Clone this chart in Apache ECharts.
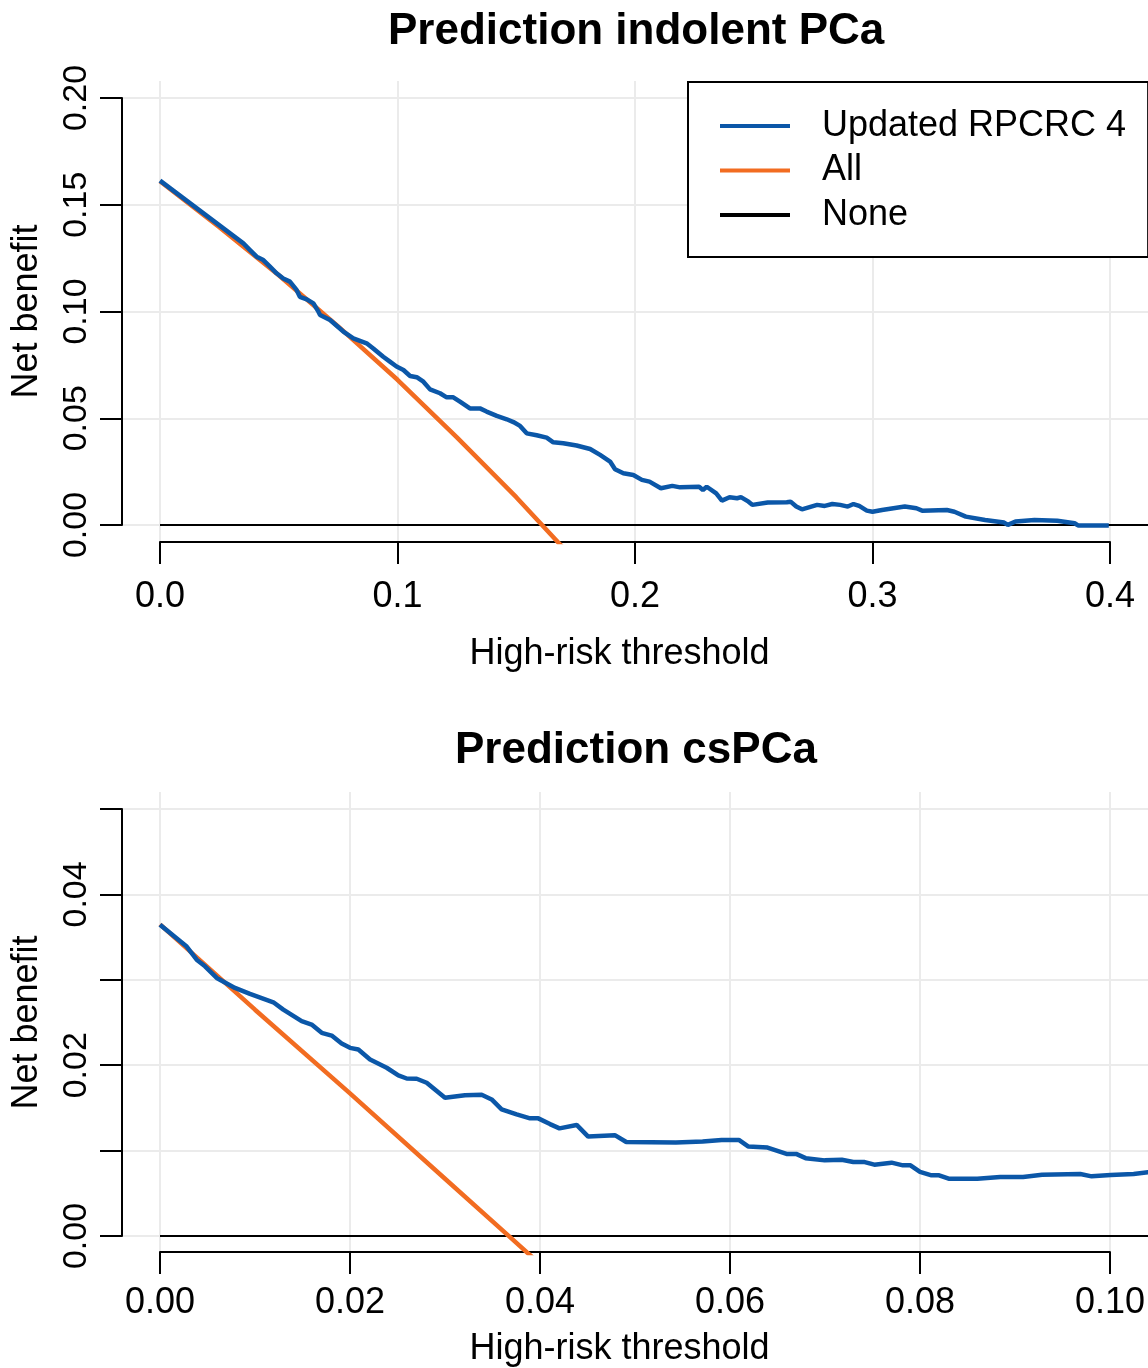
<!DOCTYPE html>
<html>
<head>
<meta charset="utf-8">
<script src="https://cdn.jsdelivr.net/npm/echarts@6/dist/echarts.min.js"></script>
<style>
html, body { margin: 0; padding: 0; background: #fff; }
#chart { width: 1148px; height: 1368px; }
</style>
</head>
<body>
<div id="chart"></div>
<script>
// ---- data ----
// top panel: prediction of indolent PCa
var indolentModelT = [0, 0.0351, 0.0379, 0.0407, 0.0435, 0.0463, 0.0491, 0.0519, 0.0547, 0.0575, 0.0589,
    0.0618, 0.0646, 0.0667, 0.0674, 0.0716, 0.0772, 0.0814, 0.0870, 0.0898, 0.0940, 0.0968, 0.0996, 0.1025,
    0.1053, 0.1081, 0.1109, 0.1137, 0.1179, 0.1207, 0.1235, 0.1263, 0.1305, 0.1347, 0.1375, 0.1418, 0.1460,
    0.1488, 0.1516, 0.1544, 0.1586, 0.1628, 0.1656, 0.1698, 0.1754, 0.1811, 0.1853, 0.1895, 0.1916, 0.1951,
    0.1993, 0.2029, 0.2061, 0.2109, 0.2157, 0.2190, 0.2270, 0.2286, 0.2302, 0.2342, 0.2366, 0.2398, 0.2430,
    0.2446, 0.2478, 0.2494, 0.2559, 0.2639, 0.2655, 0.2679, 0.2703, 0.2767, 0.2799, 0.2831, 0.2864, 0.2896,
    0.2920, 0.2944, 0.2976, 0.3000, 0.3040, 0.3136, 0.3185, 0.3209, 0.3313, 0.3345, 0.3393, 0.3474, 0.3554,
    0.3570, 0.3602, 0.3682, 0.3778, 0.3851, 0.3867, 0.3995];
var indolentModelNB = [0.1613, 0.1319, 0.1288, 0.1257, 0.1241, 0.1210, 0.1179, 0.1155, 0.1140, 0.1101, 0.1069,
    0.1057, 0.1038, 0.0999, 0.0984, 0.0960, 0.0906, 0.0874, 0.0851, 0.0827, 0.0788, 0.0765, 0.0742, 0.0726,
    0.0698, 0.0692, 0.0671, 0.0635, 0.0617, 0.0598, 0.0598, 0.0578, 0.0546, 0.0546, 0.0531, 0.0511, 0.0495,
    0.0482, 0.0464, 0.0429, 0.0420, 0.0409, 0.0387, 0.0383, 0.0372, 0.0356, 0.0328, 0.0297, 0.0261, 0.0242,
    0.0234, 0.0211, 0.0203, 0.0172, 0.0183, 0.0176, 0.0179, 0.0164, 0.0179, 0.0148, 0.0114, 0.0130, 0.0125,
    0.0130, 0.0109, 0.0094, 0.0105, 0.0106, 0.0109, 0.0086, 0.0073, 0.0094, 0.0089, 0.0098, 0.0094, 0.0086,
    0.0098, 0.0089, 0.0067, 0.0062, 0.0070, 0.0086, 0.0078, 0.0067, 0.0070, 0.0062, 0.0039, 0.0023, 0.0011,
    0.0000, 0.0016, 0.0023, 0.0020, 0.0008, -0.0003, -0.0003];
var indolentAllT = [0, 0.025, 0.05, 0.075, 0.1, 0.125, 0.15, 0.17];
var indolentAllNB = [0.161, 0.1395, 0.117, 0.093, 0.068, 0.041, 0.013, -0.011];
var indolentNoneT = [0, 0.45];
var indolentNoneNB = [0, 0];
var indolentXLabels = ['0.0', '0.1', '0.2', '0.3', '0.4'];
var indolentYLabels = ['0.00', '0.05', '0.10', '0.15', '0.20'];

// bottom panel: prediction of csPCa
var csModelT = [0, 0.00281, 0.00386, 0.00474, 0.00597, 0.00789, 0.00947, 0.01193, 0.01298, 0.01491, 0.01596,
    0.01702, 0.01807, 0.01912, 0.02000, 0.02088, 0.02211, 0.02386, 0.02509, 0.02597, 0.02702, 0.02807, 0.03000,
    0.03210, 0.03386, 0.03491, 0.03596, 0.03754, 0.03895, 0.03982, 0.04105, 0.04205, 0.04386, 0.04507, 0.04788,
    0.04908, 0.05430, 0.05712, 0.05912, 0.06093, 0.06194, 0.06395, 0.06595, 0.06696, 0.06796, 0.06997, 0.07177,
    0.07298, 0.07418, 0.07519, 0.07700, 0.07820, 0.07900, 0.08000, 0.08121, 0.08201, 0.08302, 0.08603, 0.08844,
    0.09085, 0.09285, 0.09687, 0.09807, 0.10008, 0.10249, 0.10400, 0.10600];
var csModelNB = [0.03646, 0.0339, 0.03236, 0.03158, 0.03022, 0.02905, 0.02835, 0.02737, 0.02651, 0.02515, 0.02476,
    0.02379, 0.02347, 0.02254, 0.02203, 0.02184, 0.02067, 0.0197, 0.0188, 0.01844, 0.01841, 0.01794, 0.01619,
    0.01649, 0.01654, 0.01599, 0.01482, 0.01423, 0.01377, 0.01377, 0.01310, 0.01260, 0.01300, 0.01164, 0.01180,
    0.01100, 0.01093, 0.01105, 0.01125, 0.01125, 0.01047, 0.01035, 0.00961, 0.00961, 0.00911, 0.00885, 0.00892,
    0.00865, 0.00865, 0.00835, 0.00858, 0.00827, 0.00827, 0.00750, 0.00710, 0.00710, 0.00670, 0.00670, 0.00690,
    0.00690, 0.00717, 0.00725, 0.00698, 0.00713, 0.00725, 0.00745, 0.00760];
var csAllT = [0, 0.01, 0.02, 0.03, 0.0367, 0.04];
var csAllNB = [0.0365, 0.0265, 0.0167, 0.0067, 0, -0.0033];
var csNoneT = [0, 0.12];
var csNoneNB = [0, 0];
var csXLabels = ['0.00', '0.02', '0.04', '0.06', '0.08', '0.10'];
var csYLabels = ['0.00', '', '0.02', '', '0.04', ''];

// ---- styling ----
var BLUE = '#0b57a8';
var ORANGE = '#f26c21';
var GRIDCOL = '#ebebeb';
var FONT = "'Liberation Sans', Arial, sans-serif";

function pairs(xs, ys) {
    var out = [];
    for (var i = 0; i < xs.length; i++) {
        out.push([xs[i], ys[i]]);
    }
    return out;
}

function hiddenAxis(gridIndex, min, max) {
    return {type: 'value', gridIndex: gridIndex, min: min, max: max, show: false};
}

function xTickAxis(gridIndex, max, interval, labels, labelMargin, nameGap) {
    return {
        type: 'value',
        gridIndex: gridIndex,
        min: 0,
        max: max,
        interval: interval,
        position: 'bottom',
        axisLine: {show: true, lineStyle: {color: '#000', width: 2}},
        axisTick: {show: true, length: 22, lineStyle: {color: '#000', width: 2}},
        axisLabel: {
            margin: labelMargin,
            color: '#000',
            fontSize: 36,
            fontFamily: FONT,
            formatter: function (value, index) {
                return labels[index];
            }
        },
        splitLine: {show: true, lineStyle: {color: GRIDCOL, width: 2}},
        name: 'High-risk threshold',
        nameLocation: 'middle',
        nameGap: nameGap,
        nameTextStyle: {color: '#000', fontSize: 36, fontFamily: FONT, padding: [0, 31, 0, 0]}
    };
}

function yTickAxis(gridIndex, max, interval, labels) {
    return {
        type: 'value',
        gridIndex: gridIndex,
        min: 0,
        max: max,
        interval: interval,
        position: 'left',
        axisLine: {show: true, lineStyle: {color: '#000', width: 2}},
        axisTick: {show: true, length: 22, lineStyle: {color: '#000', width: 2}},
        axisLabel: {
            rotate: 90,
            margin: 28,
            color: '#000',
            fontSize: 34,
            fontFamily: FONT,
            formatter: function (value, index) {
                return labels[index];
            }
        },
        splitLine: {show: true, lineStyle: {color: GRIDCOL, width: 2}},
        name: 'Net benefit',
        nameLocation: 'middle',
        nameGap: 77,
        nameRotate: 90,
        nameTextStyle: {color: '#000', fontSize: 36, fontFamily: FONT}
    };
}

function lineSeries(name, color, width, x, y, axisIndex, z) {
    return {
        name: name,
        type: 'line',
        xAxisIndex: axisIndex,
        yAxisIndex: axisIndex,
        data: pairs(x, y),
        showSymbol: false,
        symbol: 'none',
        clip: true,
        z: z,
        color: color,
        lineStyle: {color: color, width: width},
        emphasis: {disabled: true}
    };
}

var chart = echarts.init(document.getElementById('chart'));

var option = {
    animation: false,
    backgroundColor: '#fff',
    title: [{
        text: 'Prediction indolent PCa',
        left: 388,
        top: 10,
        padding: 0,
        textStyle: {color: '#000', fontSize: 44, fontWeight: 'bold', fontFamily: FONT}
    }, {
        text: 'Prediction csPCa',
        left: 455,
        top: 729,
        padding: 0,
        textStyle: {color: '#000', fontSize: 44, fontWeight: 'bold', fontFamily: FONT}
    }],
    legend: {
        data: ['Updated RPCRC 4', 'All', 'None'],
        orient: 'vertical',
        left: 688,
        top: 82,
        padding: [22, 22, 20, 32],
        itemWidth: 70,
        itemHeight: 4,
        itemGap: 0.5,
        icon: 'rect',
        selectedMode: false,
        backgroundColor: '#fff',
        borderColor: '#000',
        borderWidth: 2,
        borderRadius: 0,
        textStyle: {color: '#000', fontSize: 36, lineHeight: 36, fontFamily: FONT, padding: [8, 0, 0, 27]}
    },
    grid: [
        {left: 122, top: 81, width: 1026, height: 461},
        {left: 160, top: 81, width: 950, height: 461},
        {left: 122, top: 98, width: 1026, height: 427},
        {left: 122, top: 792, width: 1026, height: 461},
        {left: 160, top: 792, width: 950, height: 461},
        {left: 122, top: 809, width: 1026, height: 427}
    ],
    xAxis: [
        hiddenAxis(0, -0.016, 0.416),
        xTickAxis(1, 0.4, 0.1, indolentXLabels, 37, 94),
        hiddenAxis(2, 0, 1),
        hiddenAxis(3, -0.004, 0.104),
        xTickAxis(4, 0.1, 0.02, csXLabels, 33, 79),
        hiddenAxis(5, 0, 1)
    ],
    yAxis: [
        hiddenAxis(0, -0.008, 0.208),
        hiddenAxis(1, 0, 1),
        yTickAxis(2, 0.2, 0.05, indolentYLabels),
        hiddenAxis(3, -0.002, 0.052),
        hiddenAxis(4, 0, 1),
        yTickAxis(5, 0.05, 0.01, csYLabels)
    ],
    series: [
        lineSeries('None', '#000', 2, indolentNoneT, indolentNoneNB, 0, 3),
        lineSeries('All', ORANGE, 4.5, indolentAllT, indolentAllNB, 0, 4),
        lineSeries('Updated RPCRC 4', BLUE, 4.5, indolentModelT, indolentModelNB, 0, 5),
        lineSeries('None', '#000', 2, csNoneT, csNoneNB, 3, 3),
        lineSeries('All', ORANGE, 4.5, csAllT, csAllNB, 3, 4),
        lineSeries('Updated RPCRC 4', BLUE, 4.5, csModelT, csModelNB, 3, 5)
    ]
};
chart.setOption(option);
</script>
</body>
</html>
